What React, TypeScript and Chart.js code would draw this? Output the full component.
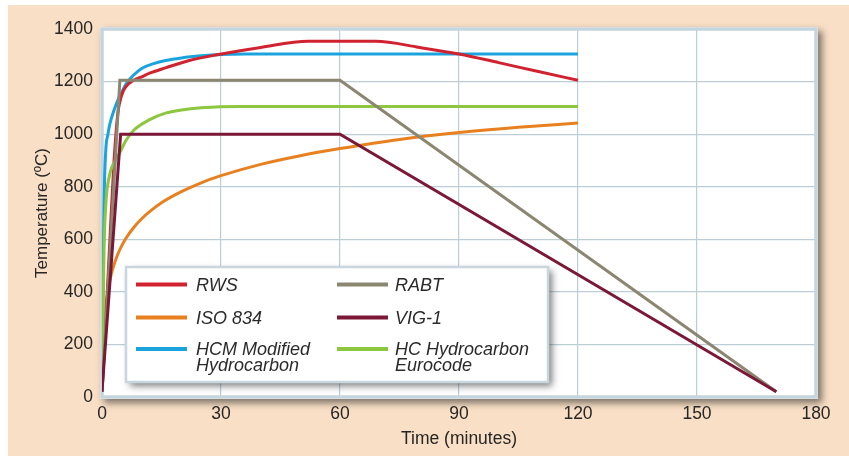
import React, { useEffect, useRef } from "react";
import { Chart, registerables } from "chart.js";

Chart.register(...registerables);

// ---- Data (minutes, °C) ----
const rwsTime = [0, 1, 2, 3, 4, 5, 6, 8, 10, 12, 16, 22, 29, 40, 52, 69, 80, 90, 100, 110, 120];
const rwsTemp = [20, 300, 600, 890, 1080, 1150, 1180, 1205, 1218, 1232, 1252, 1280, 1302, 1330, 1353, 1353, 1330, 1305, 1272, 1238, 1205];

const isoTime = [0, 0.25, 0.5, 1, 1.5, 2, 2.5, 3, 4, 5, 6, 8, 10, 12, 15, 20, 25, 30, 40, 50, 60, 75, 90, 105, 120];
const isoTemp = [20, 180, 261, 349, 403, 445, 476, 502, 544, 576, 603, 645, 678, 705, 739, 781, 815, 842, 885, 918, 945, 980, 1006, 1026, 1042];

const hcmTime = [0, 0.3, 0.6, 1, 1.5, 2, 3, 4, 5, 6, 8, 10, 13, 16, 20, 25, 30, 36, 120];
const hcmTemp = [20, 500, 800, 950, 1000, 1040, 1090, 1130, 1160, 1190, 1225, 1250, 1268, 1280, 1290, 1298, 1303, 1305, 1305];

const rabtTime = [0, 4.5, 60, 170];
const rabtTemp = [20, 1205, 1205, 20];

const vigTime = [0, 4.7, 60, 170];
const vigTemp = [20, 1000, 1000, 20];

const hcTime = [0, 0.5, 1, 2, 3, 4.5, 6, 8, 12, 16, 20, 25, 35, 120];
const hcTemp = [20, 550, 740, 850, 890, 930, 975, 1015, 1055, 1080, 1092, 1100, 1105, 1105];

const xTicks = [0, 30, 60, 90, 120, 150, 180];
const yTicks = [0, 200, 400, 600, 800, 1000, 1200, 1400];

const seriesNames = ["RWS", "ISO 834", "HCM Modified\nHydrocarbon", "RABT", "VIG-1", "HC Hydrocarbon\nEurocode"];
const seriesColors = ["#d0232f", "#e8801f", "#1ba3dd", "#8b8670", "#7b1737", "#8dc63f"];

const xTitle = "Time (minutes)";
const yTitle = "Temperature (ºC)";

const FONT = "'Liberation Sans', Arial, Helvetica, sans-serif";

function pts(t: number[], v: number[]) {
  return t.map((x, i) => ({ x, y: v[i] }));
}

const framePlugin = {
  id: "frame",
  beforeDraw(chart: any) {
    const { ctx, chartArea } = chart;
    const { left, top, right, bottom } = chartArea;
    ctx.save();
    ctx.shadowColor = "rgba(40,40,40,0.6)";
    ctx.shadowBlur = 7;
    ctx.shadowOffsetX = 4;
    ctx.shadowOffsetY = 4;
    ctx.fillStyle = "#ffffff";
    ctx.fillRect(left - 2, top - 2, right - left + 4, bottom - top + 4);
    ctx.restore();
  },
  beforeDatasetsDraw(chart: any) {
    const { ctx, chartArea } = chart;
    const { left, top, right, bottom } = chartArea;
    ctx.save();
    ctx.strokeStyle = "#c5d5dd";
    ctx.lineWidth = 3.5;
    ctx.strokeRect(left, top, right - left, bottom - top);
    ctx.restore();
  },
  afterDatasetsDraw(chart: any) {
    const { ctx } = chart;
    const bx = 118, by = 262, bw = 422, bh = 115;
    ctx.save();
    ctx.shadowColor = "rgba(40,40,40,0.6)";
    ctx.shadowBlur = 7;
    ctx.shadowOffsetX = 4;
    ctx.shadowOffsetY = 4;
    ctx.fillStyle = "#ffffff";
    ctx.fillRect(bx, by, bw, bh);
    ctx.restore();
    ctx.save();
    ctx.strokeStyle = "#c8d6dd";
    ctx.lineWidth = 2.5;
    ctx.strokeRect(bx, by, bw, bh);
    const colX = [128, 329];
    const textX = [188, 387];
    const rowY = [279.5, 312.5, 344];
    ctx.font = `italic 18px ${FONT}`;
    ctx.fillStyle = "#2a2a2a";
    ctx.textBaseline = "alphabetic";
    ctx.textAlign = "left";
    seriesNames.forEach((name, i) => {
      const c = Math.floor(i / 3);
      const r = i % 3;
      ctx.strokeStyle = seriesColors[i];
      ctx.lineWidth = 4;
      ctx.beginPath();
      ctx.moveTo(colX[c], rowY[r]);
      ctx.lineTo(colX[c] + 51, rowY[r]);
      ctx.stroke();
      const lines = name.split("\n");
      if (lines.length === 1) {
        ctx.fillText(lines[0], textX[c], rowY[r] + 6.5);
      } else {
        lines.forEach((ln, k) => ctx.fillText(ln, textX[c], rowY[r] + 6 + k * 16));
      }
    });
    ctx.restore();
  },
};

export default function App() {
  const ref = useRef<HTMLCanvasElement | null>(null);
  useEffect(() => {
    if (!ref.current) return;
    const mk = (i: number, t: number[], v: number[], tension: number) => ({
      label: seriesNames[i].replace("\n", " "),
      data: pts(t, v),
      borderColor: seriesColors[i],
      backgroundColor: seriesColors[i],
      borderWidth: 3,
      pointRadius: 0,
      fill: false,
      tension,
      cubicInterpolationMode: tension > 0 ? ("monotone" as const) : ("default" as const),
    });
    const chart = new Chart(ref.current, {
      type: "line",
      data: {
        datasets: [
          mk(4, vigTime, vigTemp, 0),
          mk(3, rabtTime, rabtTemp, 0),
          mk(5, hcTime, hcTemp, 0.4),
          mk(0, rwsTime, rwsTemp, 0.4),
          mk(2, hcmTime, hcmTemp, 0.4),
          mk(1, isoTime, isoTemp, 0.4),
        ],
      },
      options: {
        animation: false,
        responsive: false,
        devicePixelRatio: 1,
        layout: { padding: { top: 24, right: 33, left: 0, bottom: 0 } },
        plugins: { legend: { display: false }, tooltip: { enabled: false } },
        scales: {
          x: {
            type: "linear",
            min: 0,
            max: 180,
            afterFit: (s: any) => { s.height = 59; },
            afterBuildTicks: (s: any) => { s.ticks = xTicks.map((v) => ({ value: v })); },
            grid: { color: "#bccdd5", lineWidth: 1.2, drawTicks: false },
            border: { display: false },
            ticks: { color: "#262626", font: { family: FONT, size: 17.5 }, padding: 7, maxRotation: 0, callback: (v: any) => String(v) },
            title: { display: true, text: xTitle, color: "#262626", font: { family: FONT, size: 17.5 }, padding: { top: 0, bottom: 6 } },
          },
          y: {
            type: "linear",
            min: 0,
            max: 1400,
            afterFit: (s: any) => { s.width = 94; },
            afterBuildTicks: (s: any) => { s.ticks = yTicks.map((v) => ({ value: v })); },
            grid: { color: "#bccdd5", lineWidth: 1.2, drawTicks: false },
            border: { display: false },
            ticks: { color: "#262626", font: { family: FONT, size: 17.5 }, padding: 9, callback: (v: any) => String(v) },
            title: { display: true, text: yTitle, color: "#262626", font: { family: FONT, size: 17 }, padding: { top: 24, bottom: 0 } },
          },
        },
      },
      plugins: [framePlugin],
    });
    return () => chart.destroy();
  }, []);
  return (
    <div style={{ position: "absolute", left: 8, top: 5, width: 841, height: 451, background: "#f9dfc5" }}>
      <canvas ref={ref} width={841} height={451} style={{ display: "block", width: 841, height: 451 }} />
    </div>
  );
}
